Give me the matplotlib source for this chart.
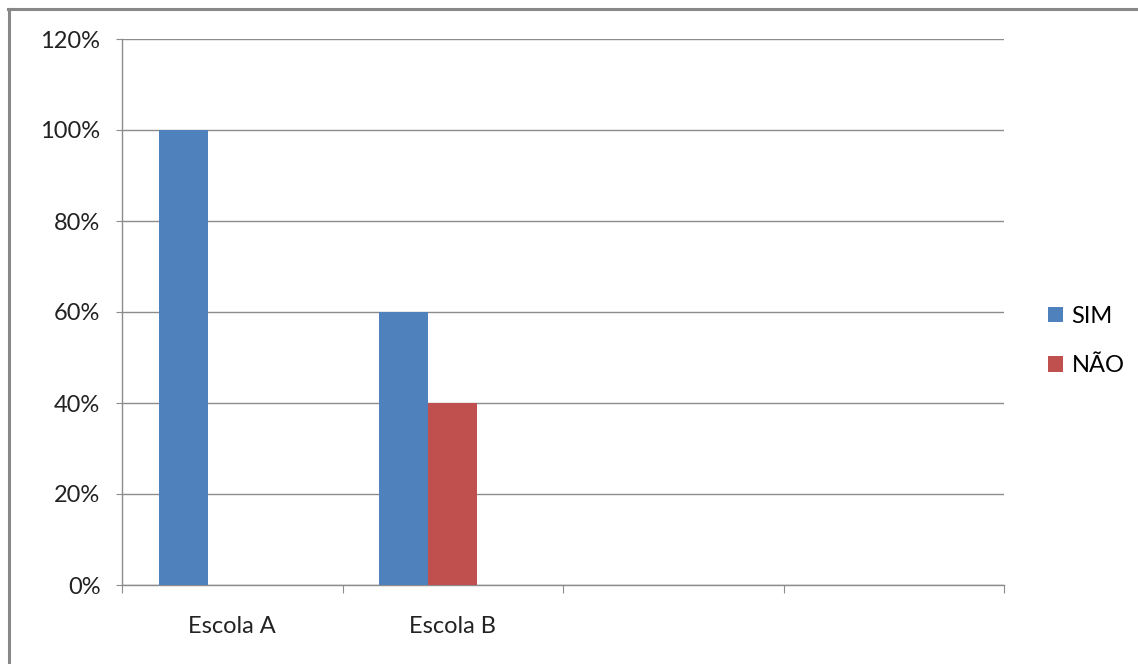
import matplotlib
matplotlib.use("Agg")
import matplotlib.pyplot as plt
from matplotlib.lines import Line2D
from matplotlib.patches import Patch
from matplotlib.ticker import FixedLocator, FuncFormatter

categories = ["Escola A", "Escola B", "", ""]
sim = [100, 60, 0, 0]
nao = [0, 40, 0, 0]
series_names = ["SIM", "NÃO"]
colors = ["#4F81BD", "#C0504D"]
yticks = [0, 20, 40, 60, 80, 100, 120]

plt.rcParams["font.family"] = ["Lato", "DejaVu Sans"]

W, H, DPI = 1138, 664, 100
FS = 17
fig = plt.figure(figsize=(W / DPI, H / DPI), dpi=DPI)
ax = fig.add_axes([122 / W, 1 - 585 / H, (1004 - 122) / W, (585 - 39) / H])

bw = 1 / 4.5  # three bar slots per category with a 150% gap
x = list(range(len(categories)))
ax.bar([i - bw for i in x], sim, width=bw, color=colors[0], zorder=3)
ax.bar([i for i in x], nao, width=bw, color=colors[1], zorder=3)

ax.set_xlim(-0.5, len(categories) - 0.5)
ax.set_ylim(0, 120)

grid_c = "#8c8c8c"
ax.set_yticks(yticks)
ax.yaxis.set_major_formatter(FuncFormatter(lambda v, p: f"{v:.0f}%"))
ax.yaxis.grid(True, color=grid_c, linewidth=1.0, zorder=0)
ax.tick_params(axis="y", direction="out", length=4.5, color=grid_c, labelsize=FS,
               labelcolor="#222222", pad=11)

ax.xaxis.set_major_locator(FixedLocator([i - 0.5 for i in range(len(categories) + 1)]))
ax.xaxis.set_major_formatter(FuncFormatter(lambda v, p: ""))
ax.xaxis.set_minor_locator(FixedLocator(x))
ax.set_xticklabels(categories, minor=True)
ax.tick_params(axis="x", which="major", direction="out", length=6, color=grid_c)
ax.tick_params(axis="x", which="minor", length=0, labelsize=FS, labelcolor="#222222", pad=22)

for s in ["top", "right"]:
    ax.spines[s].set_visible(False)
ax.spines["left"].set_color(grid_c)
ax.spines["bottom"].set_color(grid_c)
ax.spines["left"].set_linewidth(1.0)
ax.spines["bottom"].set_linewidth(1.0)

handles = [Patch(facecolor=c, edgecolor="none") for c in colors]
fig.legend(handles, series_names, loc="center left",
           bbox_to_anchor=(1036 / W, 1 - 341 / H), frameon=False,
           fontsize=FS, handlelength=0.65, handleheight=0.65,
           handletextpad=0.35, labelspacing=1.2, borderpad=0)

# chart area frame along the top and left edges
fig.add_artist(Line2D([9 / W, 9 / W], [0, 1 - 9 / H], color="#888888", linewidth=2.2,
                      transform=fig.transFigure))
fig.add_artist(Line2D([8 / W, 1], [1 - 9 / H, 1 - 9 / H], color="#888888", linewidth=2.2,
                      transform=fig.transFigure))

fig.savefig("out.png", dpi=DPI)
